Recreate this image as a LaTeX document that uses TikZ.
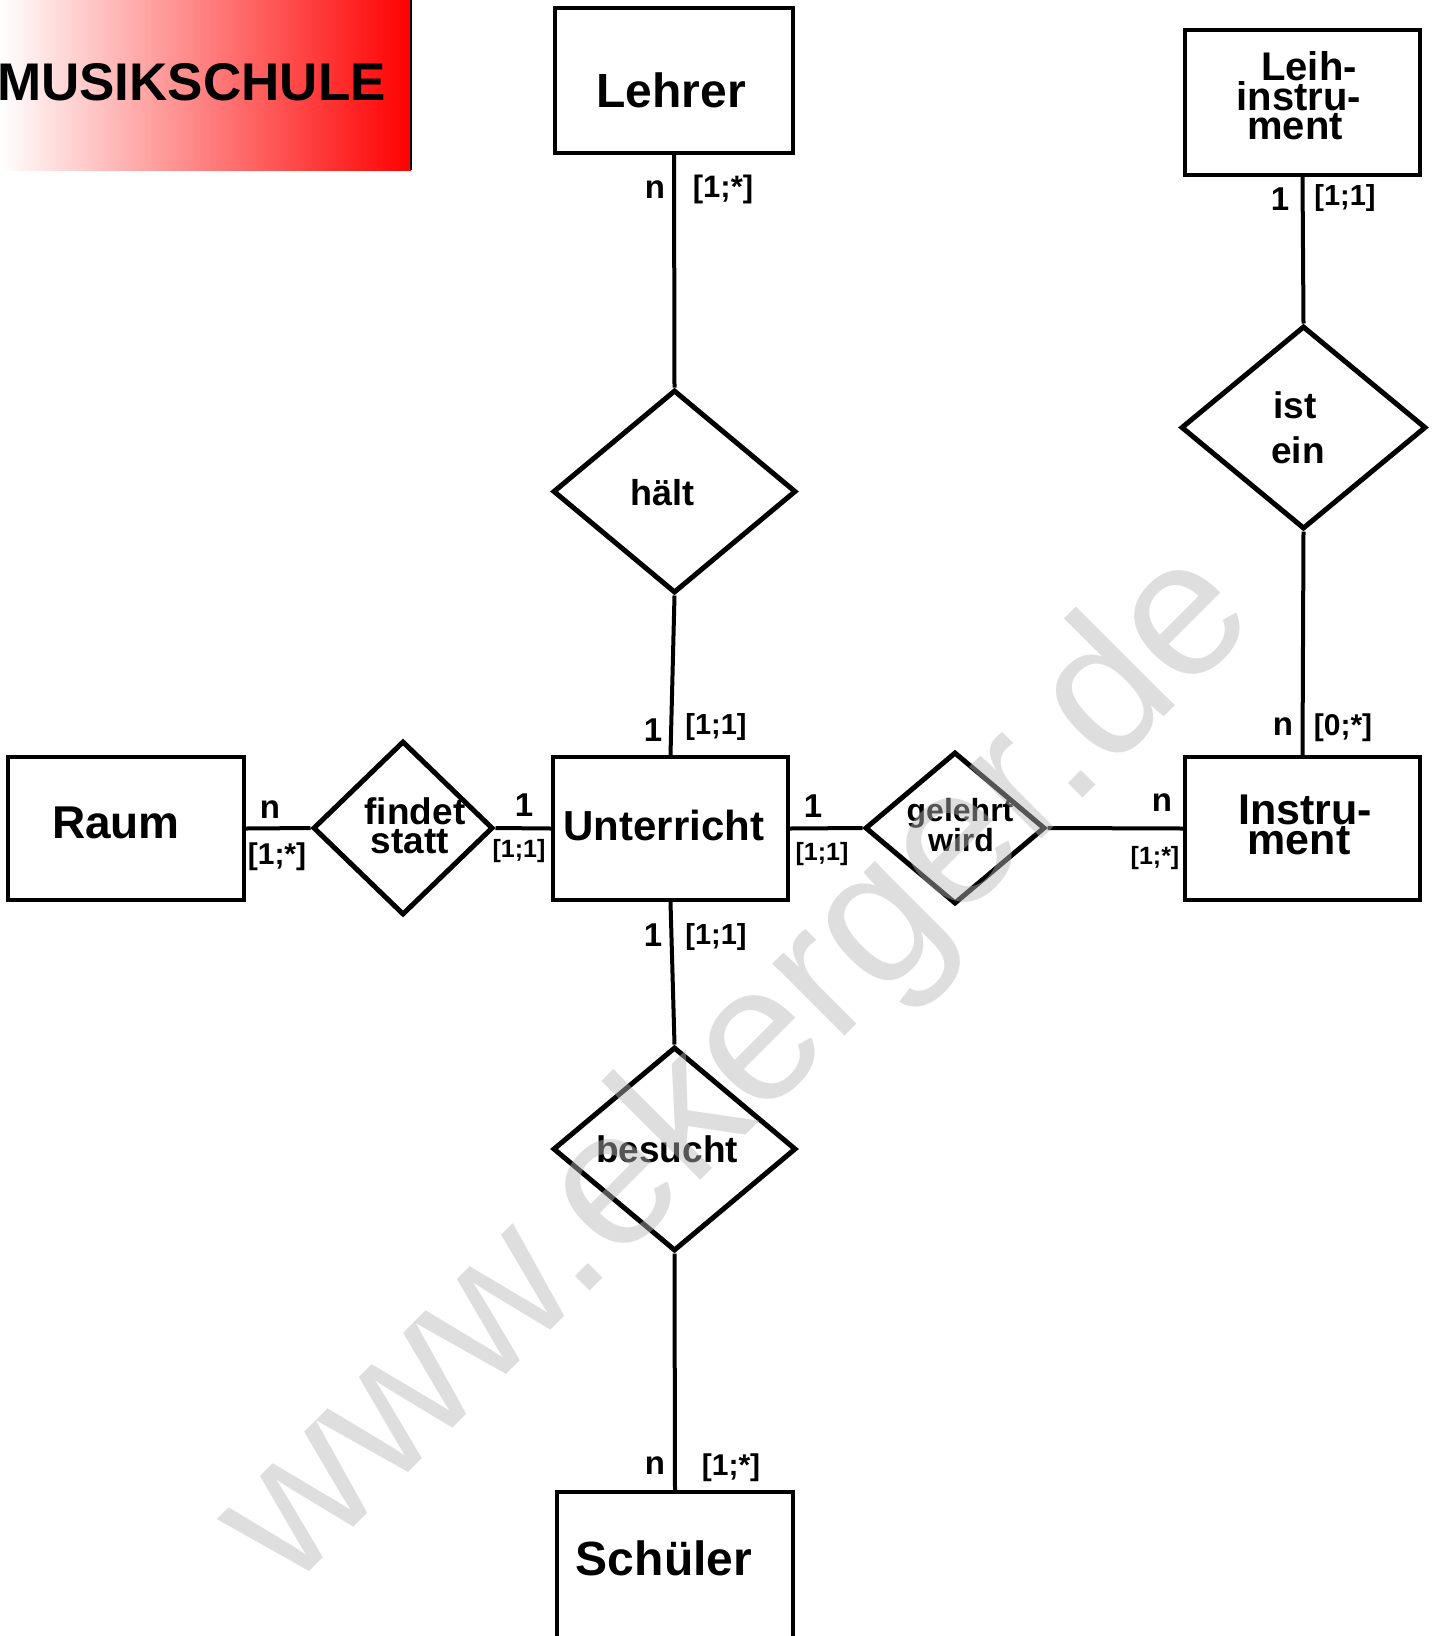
\documentclass[tikz,border=0pt]{standalone}
\usepackage{fontspec}
\setmainfont{Liberation Sans}
\usetikzlibrary{shapes.geometric}
\definecolor{wmgray}{RGB}{184,184,184}
\tikzset{
  entity/.style={draw, line width=4pt, rectangle, inner sep=0pt,
    minimum width=235pt, minimum height=145pt},
  rel/.style={draw, line width=5pt, diamond, inner sep=0pt},
  conn/.style={line width=4pt},
  txt/.style={anchor=base, inner sep=0pt, font=\bfseries\fontsize{#1}{#1}\selectfont},
  lbl/.style={anchor=base, inner sep=0pt, font=\bfseries\fontsize{#1}{#1}\selectfont}
}
\begin{document}
\begin{tikzpicture}[x=1pt, y=-1pt]
\useasboundingbox (0,0) rectangle (1434,1636);
% title
\shade[left color=white, right color=red] (0,0) rectangle (411,170);
\draw[line width=2pt] (411,0) -- (411,170);
\node[anchor=base west, inner sep=0pt, font=\bfseries\fontsize{53}{53}\selectfont] (title) at (-3,100) {MUSIKSCHULE};
% entities
\node[entity, minimum width=238pt] (lehrer) at (674,80.5) {};
\node[entity] (leih) at (1302.5,102.5) {};
\node[entity, minimum width=236pt, minimum height=143pt] (raum) at (126,828.5) {};
\node[entity, minimum height=143pt] (unterricht) at (670.5,828.5) {};
\node[entity, minimum height=143pt] (instrument) at (1302.5,828.5) {};
\node[entity, minimum width=236pt, minimum height=150pt] (schueler) at (675,1567) {};
% relationships
\node[rel, minimum width=243pt, minimum height=203pt] (halt) at (674.5,491.5) {};
\node[rel, minimum width=245pt, minimum height=203pt] (istein) at (1303.5,427.5) {};
\node[rel, minimum width=180pt, minimum height=174pt] (findet) at (403,828) {};
\node[rel, minimum width=180pt, minimum height=152pt] (gelehrt) at (955,828) {};
\node[rel, minimum width=243pt, minimum height=204pt] (besucht) at (674.5,1149) {};
% connectors
\draw[conn] (lehrer.south) -- (halt.north);
\draw[conn] (halt.south) -- (unterricht.north);
\draw[conn] (unterricht.south) -- (besucht.north);
\draw[conn] (besucht.south) -- (schueler.north);
\draw[conn] (raum.east) -- (findet.west);
\draw[conn] (findet.east) -- (unterricht.west);
\draw[conn] (unterricht.east) -- (gelehrt.west);
\draw[conn] (gelehrt.east) -- (instrument.west);
\draw[conn] (leih.south) -- (istein.north);
\draw[conn] (istein.south) -- (instrument.north);
% entity texts
\node[txt=48] (tlehrer) at (671,107) {Lehrer};
\node[txt=40] (tleihA) at (1309,80) {Leih-};
\node[txt=40] (tleihB) at (1299,110) {instru-};
\node[txt=40] (tleihC) at (1295,139) {ment};
\node[txt=46] (traum) at (116,838) {Raum};
\node[txt=42] (tunterricht) at (664,840) {Unterricht};
\node[txt=43] (tinstrA) at (1305,824) {Instru-};
\node[txt=43] (tinstrB) at (1299,854) {ment};
\node[txt=48] (tschueler) at (664,1575) {Schüler};
% relationship texts
\node[txt=36] (thalt) at (662,505) {hält};
\node[txt=37] (tistA) at (1295,418) {ist};
\node[txt=37] (tistB) at (1298,463) {ein};
\node[txt=37] (tfindetA) at (415,824) {findet};
\node[txt=37] (tfindetB) at (410,853) {statt};
\node[txt=32] (tgelehrtA) at (960,821) {gelehrt};
\node[txt=32] (tgelehrtB) at (961,851) {wird};
\node[txt=37] (tbesucht) at (667,1162) {besucht};
% cardinalities
\node[lbl=33] (c1) at (655,198) {n};
\node[lbl=31] (c2) at (723,197) {[1;*]};
\node[lbl=33] (c3) at (1280,210) {1};
\node[lbl=29] (c4) at (1345,205) {[1;1]};
\node[lbl=33] (c5) at (653,741) {1};
\node[lbl=29] (c6) at (716,734) {[1;1]};
\node[lbl=33] (c7) at (653,946) {1};
\node[lbl=29] (c8) at (716,944) {[1;1]};
\node[lbl=33] (c9) at (655,1474) {n};
\node[lbl=30] (c10) at (731,1475) {[1;*]};
\node[lbl=33] (c11) at (1283,735) {n};
\node[lbl=30] (c12) at (1343,735) {[0;*]};
\node[lbl=33] (c13) at (270,818) {n};
\node[lbl=30] (c14) at (277,864) {[1;*]};
\node[lbl=33] (c15) at (524,816) {1};
\node[lbl=25] (c16) at (519,857) {[1;1]};
\node[lbl=33] (c17) at (813,817) {1};
\node[lbl=25] (c18) at (822,860) {[1;1]};
\node[lbl=33] (c19) at (1162,811) {n};
\node[lbl=25] (c20) at (1155,864) {[1;*]};
% watermark
\node[rotate=45, anchor=base, inner sep=0pt, font=\fontsize{193}{193}\selectfont,
  text=wmgray, opacity=0.46, text opacity=0.46] (wm) at (775,1106) {www.ekerger.de};
\end{tikzpicture}
\end{document}
